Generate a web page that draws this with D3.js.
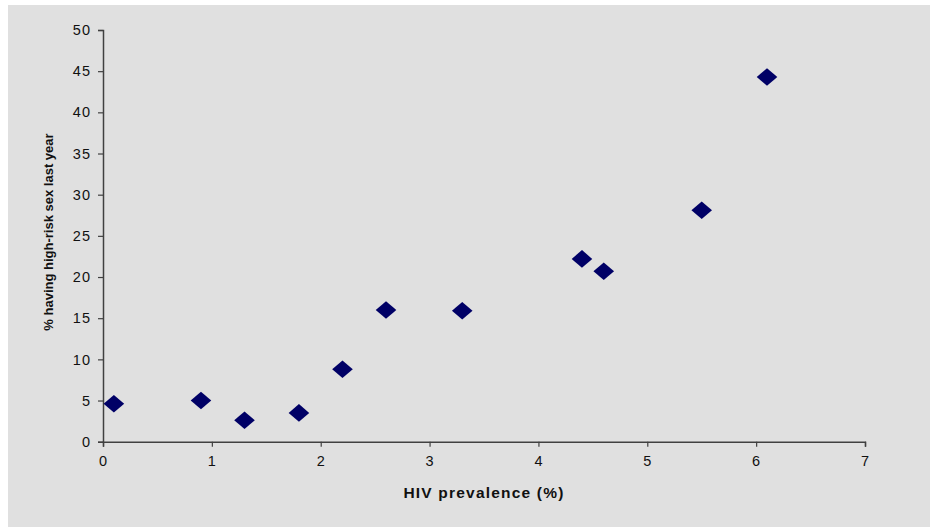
<!DOCTYPE html>
<html><head><meta charset="utf-8">
<script src="https://cdnjs.cloudflare.com/ajax/libs/d3/7.8.5/d3.min.js"></script>
<style>html,body{margin:0;padding:0;background:#fff;}svg{display:block;}</style>
</head><body>
<svg id="chart" width="930" height="527"></svg>
<script>
const prevalence = [0.1, 0.9, 1.3, 1.8, 2.2, 2.6, 3.3, 4.4, 4.6, 5.5, 6.1];
const highRisk   = [4.6, 5.0, 2.6, 3.5, 8.8, 16.0, 15.9, 22.2, 20.7, 28.1, 44.3];
const xTicks = [0, 1, 2, 3, 4, 5, 6, 7];
const yTicks = [0, 5, 10, 15, 20, 25, 30, 35, 40, 45, 50];
const xTitle = "HIV prevalence (%)";
const yTitle = "% having high-risk sex last year";

const svg = d3.select("#chart");
svg.append("rect").attr("x", 8).attr("y", 5).attr("width", 922).attr("height", 522).attr("fill", "#e0e0e0");

const x = d3.scaleLinear().domain([0, 7]).range([103, 865]);
const y = d3.scaleLinear().domain([0, 50]).range([441.7, 30]);

const font = "'Liberation Sans', Arial, sans-serif";

const xAxis = svg.append("g").attr("transform", "translate(0,441.7)")
  .call(d3.axisBottom(x).tickValues(xTicks).tickSize(5).tickPadding(9).tickFormat(d3.format("d")));
const yAxis = svg.append("g").attr("transform", "translate(103,0)")
  .call(d3.axisLeft(y).tickValues(yTicks).tickSize(5).tickPadding(7).tickFormat(d3.format("d")));

[xAxis, yAxis].forEach(g => {
  g.select(".domain").attr("stroke", "#404040").attr("stroke-width", 1.5);
  g.selectAll(".tick line").attr("stroke", "#404040").attr("stroke-width", 1.2);
  g.selectAll(".tick text").attr("fill", "#111").style("font-family", font).style("font-size", "14.5px")
    .style("letter-spacing", "1px");
});

const diamond = (cx, cy) => {
  const hw = 10.3, hh = 8.8;
  return `M${cx},${cy-hh}L${cx+hw},${cy}L${cx},${cy+hh}L${cx-hw},${cy}Z`;
};
svg.append("g").selectAll("path").data(prevalence.map((p, i) => [p, highRisk[i]]))
  .join("path")
  .attr("d", d => diamond(x(d[0]), y(d[1])))
  .attr("fill", "#000066");

svg.append("text").attr("x", 484).attr("y", 498).attr("text-anchor", "middle")
  .style("font-family", font).style("font-size", "15.5px").style("font-weight", "bold")
  .style("letter-spacing", "1.2px").attr("fill", "#111").text(xTitle);

svg.append("text").attr("transform", "translate(53,232) rotate(-90)").attr("text-anchor", "middle")
  .style("font-family", font).style("font-size", "13px").style("font-weight", "bold")
  .attr("fill", "#111").text(yTitle);
</script>
</body></html>
